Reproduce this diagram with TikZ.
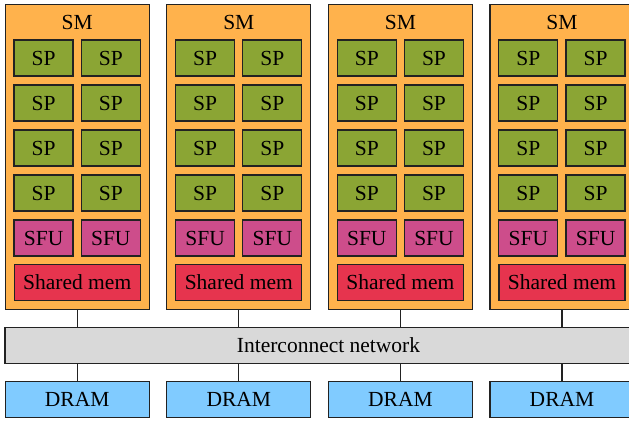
\documentclass[tikz,border=0pt]{standalone}
\usepackage{fontspec}
\setmainfont{Liberation Serif}
\definecolor{smfill}{HTML}{FFB24C}
\definecolor{spfill}{HTML}{8BA534}
\definecolor{sfufill}{HTML}{CD4D8B}
\definecolor{memfill}{HTML}{E6344E}
\definecolor{netfill}{HTML}{D9D9D9}
\definecolor{dramfill}{HTML}{80CBFF}
\definecolor{edge}{HTML}{222222}
\tikzset{
  unitbox/.style={draw=edge, line width=0.6pt, inner sep=0pt, anchor=center,
    font=\fontsize{10.75}{13}\selectfont},
  smbox/.style={unitbox, fill=smfill, minimum width=72pt, minimum height=152.5pt},
  spbox/.style={unitbox, fill=spfill, minimum width=29.5pt, minimum height=18pt},
  sfubox/.style={unitbox, fill=sfufill, minimum width=29.5pt, minimum height=18pt},
  membox/.style={unitbox, fill=memfill, minimum width=63pt, minimum height=18pt},
  netbox/.style={unitbox, fill=netfill, minimum width=330pt, minimum height=18pt},
  drambox/.style={unitbox, fill=dramfill, minimum width=72pt, minimum height=17.8pt},
  smtitle/.style={inner sep=0pt, font=\fontsize{10.75}{13}\selectfont},
  wire/.style={draw=edge, line width=0.6pt}
}
\begin{document}
\begin{tikzpicture}[x=0.5pt, y=-0.5pt]
  \useasboundingbox (0,0) rectangle (629,422);
  \clip (0,0) rectangle (629,422);
  % interconnect bar spanning all SMs
  \node[netbox] (net) at (335,345.3) {};
  \node[smtitle] (netlabel) at (328.5,345.3) {Interconnect network};
  \foreach \i in {1,...,4} {
    \pgfmathsetmacro{\cx}{77.2+161.6*(\i-1)}
    \node[smbox] (sm\i) at (\cx,156.8) {};
    \node[smtitle] (smt\i) at (\cx,22) {SM};
    \foreach \r/\ry in {1/58,2/103,3/148,4/193} {
      \node[spbox] (spa\i\r) at (\cx-33.6,\ry) {SP};
      \node[spbox] (spb\i\r) at (\cx+33.6,\ry) {SP};
    }
    \node[sfubox] (sfua\i) at (\cx-33.6,238) {SFU};
    \node[sfubox] (sfub\i) at (\cx+33.6,238) {SFU};
    \node[membox] (mem\i) at (\cx,282.5) {Shared mem};
    \node[drambox] (dram\i) at (\cx,399.5) {DRAM};
    \draw[wire] (sm\i.south) -- (sm\i.south |- net.north);
    \draw[wire] (dram\i.north |- net.south) -- (dram\i.north);
  }
\end{tikzpicture}
\end{document}
